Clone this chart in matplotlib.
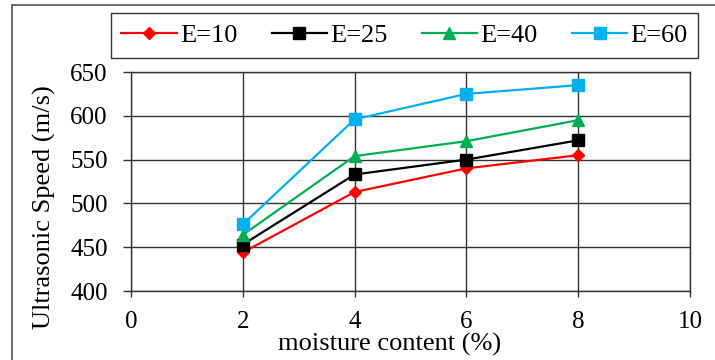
import matplotlib
matplotlib.use("Agg")
import matplotlib.pyplot as plt
from matplotlib.patches import Rectangle

moisture = [2, 4, 6, 8]
e10 = [444, 513, 540, 555]
e25 = [453, 533, 550, 572]
e40 = [464, 554, 571, 595]
e60 = [476, 596, 625, 635]
labels = ["E=10", "E=25", "E=40", "E=60"]
colors = ["#FF0000", "#000000", "#00B050", "#00B0F0"]
markers = ["D", "s", "^", "s"]
msizes = [6, 8.5, 8.5, 8.5]

plt.rcParams['font.family'] = ['Liberation Serif', 'DejaVu Serif']

W, H = 715, 360
fig = plt.figure(figsize=(W / 100, H / 100), dpi=100)
ax = fig.add_axes([131 / W, 1 - 291 / H, (690 - 131) / W, (291 - 72) / H])

for ys, lab, c, m, ms in zip([e10, e25, e40, e60], labels, colors, markers, msizes):
    ax.plot(moisture, ys, color=c, marker=m, markersize=ms, linewidth=1.6, label=lab)

ax.set_xlim(0, 10)
ax.set_ylim(400, 650)
ax.set_xticks([0, 2, 4, 6, 8, 10])
ax.set_yticks([400, 450, 500, 550, 600, 650])
ax.grid(True, color="#333333", linewidth=1.0)
ax.set_axisbelow(True)
for s in ax.spines.values():
    s.set_color("#333333")
    s.set_linewidth(1.0)
ax.tick_params(axis='both', labelsize=18, color="#333333", width=1.0)
ax.tick_params(axis='x', length=4.5, pad=10)
ax.tick_params(axis='y', length=5.8, pad=11)

fig.text(390 / W, 1 - 344 / H, "moisture content (%)", fontsize=19, ha='center', va='center')
fig.text(44 / W, 1 - 207 / H, "Ultrasonic Speed (m/s)", fontsize=19, ha='center', va='center', rotation=90)

leg = fig.legend(loc='center', bbox_to_anchor=(404.5 / W, 1 - 35.5 / H), ncol=4, fontsize=19,
                 frameon=True, fancybox=False, edgecolor="#000000", handlelength=2.1,
                 columnspacing=1.3, handletextpad=0.12, borderpad=0.4)
leg.get_frame().set_linewidth(1.0)

fig.patches.append(Rectangle((12 / W, -0.05), 1.1, 1 - 5 / H + 0.05, transform=fig.transFigure,
                             fill=False, edgecolor="#555555", linewidth=1.2))

fig.savefig("out.png", dpi=100)
